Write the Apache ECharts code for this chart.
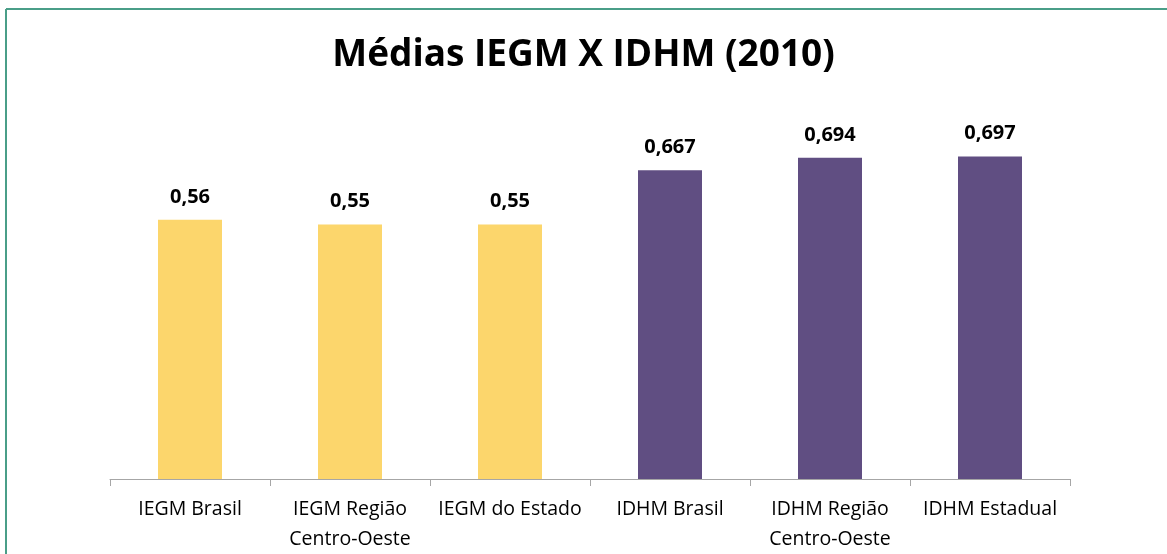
<!DOCTYPE html>
<html>
<head>
<meta charset="utf-8">
<script src="https://cdn.jsdelivr.net/npm/echarts@6/dist/echarts.min.js"></script>
<style>
  html, body { margin: 0; padding: 0; background: #fff; }
  #chart { width: 1167px; height: 554px; }
</style>
</head>
<body>
<div id="chart"></div>
<script>
var categories = ['IEGM Brasil', 'IEGM Região\nCentro-Oeste', 'IEGM do Estado', 'IDHM Brasil', 'IDHM Região\nCentro-Oeste', 'IDHM Estadual'];
var values = [0.56, 0.55, 0.55, 0.667, 0.694, 0.697];
var labels = ['0,56', '0,55', '0,55', '0,667', '0,694', '0,697'];
var barColors = ['#FCD66C', '#FCD66C', '#FCD66C', '#604E82', '#604E82', '#604E82'];

var chart = echarts.init(document.getElementById('chart'));
var font = 'Open Sans';

chart.setOption({
  backgroundColor: '#fff',
  animation: false,
  title: {
    text: 'Médias IEGM X IDHM (2010)',
    left: 'center',
    top: 32,
    textStyle: { fontFamily: font, fontSize: 37, fontWeight: 'bold', color: '#000' }
  },
  graphic: [
    { type: 'line', shape: { x1: 6, y1: 9, x2: 1167, y2: 9 }, style: { stroke: '#4A9E88', lineWidth: 2 } },
    { type: 'line', shape: { x1: 6, y1: 9, x2: 6, y2: 554 }, style: { stroke: '#4A9E88', lineWidth: 2 } }
  ],
  grid: { left: 110, right: 97, top: 108.8, bottom: 74, containLabel: false },
  xAxis: {
    type: 'category',
    data: categories,
    axisLine: { lineStyle: { color: '#A6A6A6', width: 1 } },
    axisTick: { show: true, length: 7, lineStyle: { color: '#A6A6A6' } },
    axisLabel: { fontFamily: font, fontSize: 19.5, color: '#000', margin: 15, lineHeight: 30, interval: 0 }
  },
  yAxis: { type: 'value', min: 0, max: 0.8, show: false, splitLine: { show: false } },
  series: [{
    type: 'bar',
    barWidth: '40%',
    data: values.map(function (v, i) { return { value: v, itemStyle: { color: barColors[i] } }; }),
    label: {
      show: true,
      position: 'top',
      distance: 13,
      fontFamily: font,
      fontSize: 20,
      fontWeight: 'bold',
      color: '#000',
      formatter: function (p) { return labels[p.dataIndex]; }
    }
  }]
});
</script>
</body>
</html>
